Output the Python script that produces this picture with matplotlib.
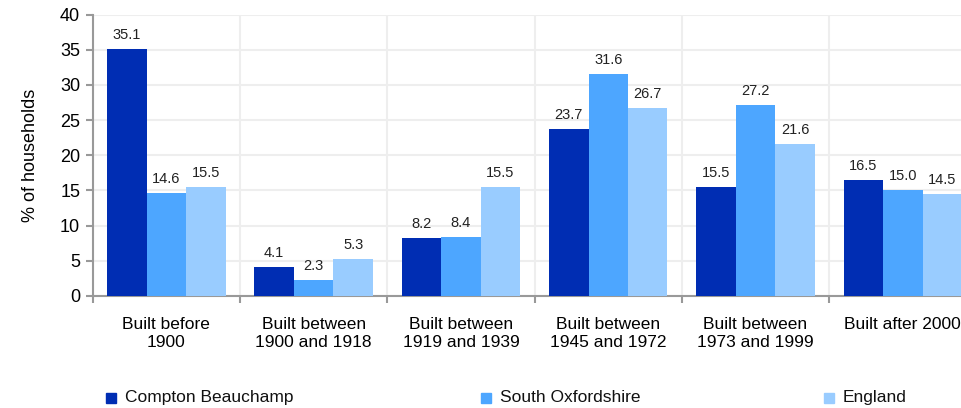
import matplotlib
matplotlib.use("Agg")
import matplotlib.pyplot as plt
import numpy as np

categories = ["Built before\n1900", "Built between\n1900 and 1918", "Built between\n1919 and 1939",
              "Built between\n1945 and 1972", "Built between\n1973 and 1999", "Built after 2000"]
series_names = ["Compton Beauchamp", "South Oxfordshire", "England"]
compton = [35.1, 4.1, 8.2, 23.7, 15.5, 16.5]
south_oxon = [14.6, 2.3, 8.4, 31.6, 27.2, 15.0]
england = [15.5, 5.3, 15.5, 26.7, 21.6, 14.5]
colors = ["#002db3", "#4da6ff", "#99ccff"]

plt.rcParams['font.family'] = ['Liberation Sans', 'DejaVu Sans']

W, H = 962, 408
fig = plt.figure(figsize=(W / 100, H / 100), dpi=100)
left, right = 92.7, 976.5
top, bottom = 14.5, 296
ax = fig.add_axes([left / W, 1 - bottom / H, (right - left) / W, (bottom - top) / H])

x = np.arange(len(categories))
bw = 0.268
for i, (vals, name, c) in enumerate(zip([compton, south_oxon, england], series_names, colors)):
    pos = x + (i - 1) * bw
    ax.bar(pos, vals, width=bw, color=c, label=name, zorder=3)
    for p, v in zip(pos, vals):
        ax.annotate(f"{v:.1f}", (p, v), xytext=(0, 5), textcoords="offset points",
                    ha="center", va="bottom", fontsize=10.5, color="#222222", zorder=4)

ax.set_xlim(-0.5, len(categories) - 0.5)
ax.set_ylim(0, 40)
ax.set_yticks(np.arange(0, 41, 5))
ax.tick_params(axis='y', labelsize=13, color="#999999", length=5, width=1.5, pad=4)
ax.set_xticks(x)
ax.set_xticklabels(categories, fontsize=12.5, linespacing=1.3)
ax.tick_params(axis='x', length=0, pad=15)
ax.set_xticks(np.arange(-0.5, len(categories), 1), minor=True)
ax.tick_params(axis='x', which='minor', length=5, width=1.5, color="#999999")

ax.grid(axis='y', color="#eeeeee", linewidth=1.5, zorder=0)
ax.grid(axis='x', which='minor', color="#eeeeee", linewidth=1.5, zorder=0)
for s in ["top", "right"]:
    ax.spines[s].set_visible(False)
for s in ["left", "bottom"]:
    ax.spines[s].set_color("#999999")
    ax.spines[s].set_linewidth(1.5)

ax.set_ylabel("% of households", fontsize=13, labelpad=15)

# legend
lx = [106, 481, 824]
ly = 397.5
for xx, name, c in zip(lx, series_names, colors):
    fig.patches.append(plt.Rectangle((xx / W, 1 - (ly + 5) / H), 10 / W, 10 / H,
                                     transform=fig.transFigure, color=c))
    fig.text((xx + 19) / W, 1 - ly / H, name, fontsize=12.5, va="center", ha="left", color="#111111")

fig.savefig("out.png", dpi=100)
